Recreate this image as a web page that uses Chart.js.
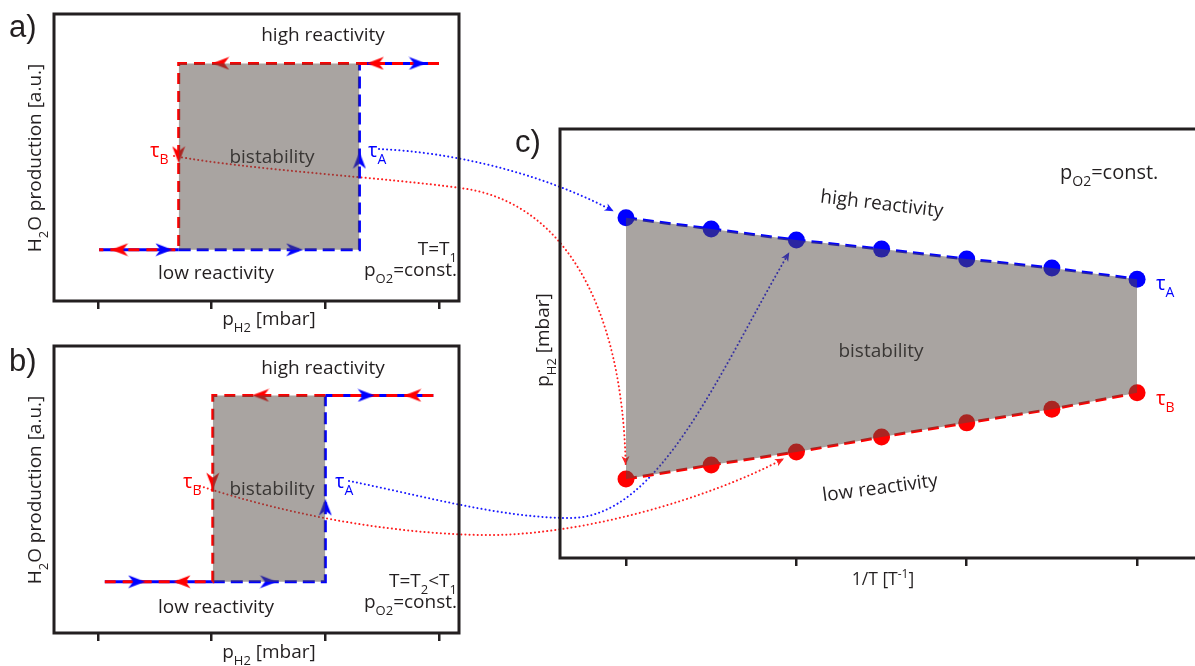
<!DOCTYPE html>
<html>
<head>
<meta charset="utf-8">
<title>Bistability of H2 oxidation</title>
<script src="https://cdn.jsdelivr.net/npm/chart.js@4.4.1/dist/chart.umd.min.js"></script>
<style>
  html, body { margin: 0; padding: 0; background: #fff; }
  #page { position: relative; width: 1195px; height: 666px; background: #fff; overflow: hidden; }
  #page canvas { position: absolute; left: 0; top: 0; }
</style>
</head>
<body>
<div id="page">
  <canvas id="chartA" width="1195" height="666"></canvas>
  <canvas id="chartB" width="1195" height="666"></canvas>
  <canvas id="chartC" width="1195" height="666"></canvas>
</div>
<script>
// ---- data ----
// panels a/b: p(H2) in tick units, H2O production 0 = low, 1 = high reactivity
const pTicks = [0, 1, 2, 3];
const pathUpA = [[0.01, 0], [0.71, 0], [2.30, 0], [2.30, 1], [3.00, 1]];   // increasing p(H2), switch at tauA
const pathDownA = [[3.00, 1], [2.30, 1], [0.71, 1], [0.71, 0], [0.01, 0]]; // decreasing p(H2), switch at tauB
const bistableA = [[0.71, 1], [2.30, 1]];
const pathUpB = [[0.06, 0], [1.01, 0], [2.00, 0], [2.00, 1], [2.95, 1]];
const pathDownB = [[2.95, 1], [2.00, 1], [1.01, 1], [1.01, 0], [0.06, 0]];
const bistableB = [[1.01, 1], [2.00, 1]];

// direction markers along the hysteresis loops
const arrowsUpA = [[0.58, 0], [1.73, 0], [2.30, 0.48], [2.81, 1]];
const arrowsUpARot = [0, 0, -90, 0];
const arrowsDownA = [[0.19, 0], [0.71, 0.51], [1.08, 1], [2.44, 1]];
const arrowsDownARot = [180, 90, 180, 180];
const arrowsUpB = [[0.34, 0], [1.50, 0], [2.00, 0.40], [2.36, 1]];
const arrowsUpBRot = [0, 0, -90, 0];
const arrowsDownB = [[0.74, 0], [1.01, 0.54], [1.43, 1], [2.77, 1]];
const arrowsDownBRot = [180, 90, 180, 180];

// panel c: transition pressures vs 1/T
const invT = [0, 0.5, 1, 1.5, 2, 2.5, 3];
const invTTicks = [0, 1, 2, 3];
const tauA = [7.93, 7.67, 7.41, 7.20, 6.97, 6.76, 6.50];
const tauB = [1.84, 2.17, 2.47, 2.82, 3.15, 3.47, 3.85];

// ---- styling ----
const RED = '#ff0000';
const BLUE = '#0000ff';
const INK = '#231f20';
const SHADE = 'rgba(84, 74, 68, 0.5)';
const TEXT_FONT = "'Open Sans', 'Noto Sans', sans-serif";
const LETTER_FONT = "'Liberation Sans', Arial, sans-serif";

const xy = arr => arr.map(p => ({ x: p[0], y: p[1] }));

function arrowImage(color) {
  const c = document.createElement('canvas');
  c.width = 18; c.height = 14;
  const g = c.getContext('2d');
  g.fillStyle = color;
  g.beginPath();
  g.moveTo(17.5, 7);
  g.lineTo(0.5, 0.5);
  g.lineTo(5.5, 7);
  g.lineTo(0.5, 13.5);
  g.closePath();
  g.fill();
  return c;
}
const redArrow = arrowImage(RED);
const blueArrow = arrowImage(BLUE);

// simple markup: _{sub} and ^{sup}
function parseRich(s) {
  const out = [];
  const re = /([_^])\{([^}]*)\}/g;
  let last = 0, m;
  while ((m = re.exec(s))) {
    if (m.index > last) out.push({ t: s.slice(last, m.index), k: 0 });
    out.push({ t: m[2], k: m[1] === '_' ? 1 : -1 });
    last = re.lastIndex;
  }
  if (last < s.length) out.push({ t: s.slice(last), k: 0 });
  return out;
}

function drawRich(ctx, item) {
  const size = item.size || 19;
  const family = item.font || TEXT_FONT;
  const parts = parseRich(item.s);
  const fontFor = k => (k ? Math.round(size * 0.7) : size) + 'px ' + family;
  let w = 0;
  parts.forEach(p => { ctx.font = fontFor(p.k); p.w = ctx.measureText(p.t).width; w += p.w; });
  ctx.save();
  ctx.translate(item.x, item.y);
  if (item.angle) ctx.rotate(item.angle * Math.PI / 180);
  ctx.fillStyle = item.color || INK;
  ctx.textAlign = 'left';
  ctx.textBaseline = 'alphabetic';
  let x = item.align === 'left' ? 0 : item.align === 'right' ? -w : -w / 2;
  const dy = item.base === 'middle' ? size * 0.36 : 0;
  parts.forEach(p => {
    ctx.font = fontFor(p.k);
    const off = p.k === 1 ? size * 0.36 : p.k === -1 ? -size * 0.42 : 0;
    ctx.fillText(p.t, x, dy + off);
    x += p.w;
  });
  ctx.restore();
}

const labels = {
  chartA: [
    { s: 'a)', x: 9, y: 37, size: 31, font: LETTER_FONT, align: 'left' },
    { s: 'high reactivity', x: 323, y: 41 },
    { s: 'bistability', x: 272, y: 163, color: '#3a3735' },
    { s: 'low reactivity', x: 216, y: 279 },
    { s: 'T=T_{1}', x: 457, y: 255, align: 'right' },
    { s: 'p_{O2}=const.', x: 457, y: 276, align: 'right' },
    { s: 'τ_{B}', x: 150, y: 157, align: 'left', color: RED, size: 20 },
    { s: 'τ_{A}', x: 368, y: 157, align: 'left', color: BLUE, size: 20 },
    { s: 'p_{H2} [mbar]', x: 269, y: 325 },
    { s: 'H_{2}O production [a.u.]', x: 41, y: 158, angle: -90 }
  ],
  chartB: [
    { s: 'b)', x: 9, y: 371, size: 31, font: LETTER_FONT, align: 'left' },
    { s: 'high reactivity', x: 323, y: 374 },
    { s: 'bistability', x: 272, y: 495, color: '#3a3735' },
    { s: 'low reactivity', x: 216, y: 613 },
    { s: 'T=T_{2}<T_{1}', x: 457, y: 587, align: 'right' },
    { s: 'p_{O2}=const.', x: 457, y: 608, align: 'right' },
    { s: 'τ_{B}', x: 183, y: 488, align: 'left', color: RED, size: 20 },
    { s: 'τ_{A}', x: 335, y: 488, align: 'left', color: BLUE, size: 20 },
    { s: 'p_{H2} [mbar]', x: 269, y: 658 },
    { s: 'H_{2}O production [a.u.]', x: 41, y: 490, angle: -90 }
  ],
  chartC: [
    { s: 'c)', x: 515, y: 152, size: 31, font: LETTER_FONT, align: 'left' },
    { s: 'p_{O2}=const.', x: 1060, y: 179, align: 'left', size: 20 },
    { s: 'high reactivity', x: 882, y: 203, angle: 6.8, base: 'middle' },
    { s: 'bistability', x: 881, y: 357, color: '#3a3735' },
    { s: 'low reactivity', x: 880, y: 487, angle: -7.5, base: 'middle' },
    { s: 'τ_{A}', x: 1156, y: 290, align: 'left', color: BLUE, size: 20 },
    { s: 'τ_{B}', x: 1156, y: 405, align: 'left', color: RED, size: 20 },
    { s: '1/T [T^{-1}]', x: 883, y: 585, size: 17.5 },
    { s: 'p_{H2} [mbar]', x: 549, y: 340, angle: -90 }
  ]
};

// ---- plugins ----
const framePlugin = {
  id: 'frame',
  afterDatasetsDraw(chart) {
    const { ctx, chartArea: a } = chart;
    ctx.save();
    ctx.strokeStyle = INK;
    ctx.lineWidth = 3;
    ctx.lineJoin = 'miter';
    ctx.beginPath();
    if (chart.canvas.id === 'chartC') {
      ctx.moveTo(a.right + 10, a.top);
      ctx.lineTo(a.left, a.top);
      ctx.lineTo(a.left, a.bottom);
      ctx.lineTo(a.right + 10, a.bottom);
    } else {
      ctx.rect(a.left, a.top, a.right - a.left, a.bottom - a.top);
    }
    ctx.stroke();
    ctx.restore();
  }
};

const textPlugin = {
  id: 'panelText',
  afterDraw(chart) {
    (labels[chart.canvas.id] || []).forEach(item => drawRich(chart.ctx, item));
  }
};

function dotted(ctx, color, start, segs, target) {
  // last control point decides the arrow direction; stop short of the marker
  const c2 = segs[segs.length - 1][1];
  const dx = target.x - c2[0], dy = target.y - c2[1];
  const len = Math.hypot(dx, dy);
  const tip = [target.x - dx / len * 14, target.y - dy / len * 14];
  ctx.save();
  ctx.strokeStyle = color;
  ctx.lineWidth = 2;
  ctx.lineCap = 'round';
  ctx.setLineDash([0.1, 4]);
  ctx.beginPath();
  ctx.moveTo(start[0], start[1]);
  segs.forEach((s, i) => {
    const end = i === segs.length - 1 ? tip : s[2];
    ctx.bezierCurveTo(s[0][0], s[0][1], s[1][0], s[1][1], end[0], end[1]);
  });
  ctx.stroke();
  ctx.setLineDash([]);
  const ang = Math.atan2(dy, dx);
  ctx.translate(tip[0], tip[1]);
  ctx.rotate(ang);
  ctx.fillStyle = color;
  ctx.beginPath();
  ctx.moveTo(0, 0);
  ctx.lineTo(-9, -4);
  ctx.lineTo(-6.5, 0);
  ctx.lineTo(-9, 4);
  ctx.closePath();
  ctx.fill();
  ctx.restore();
}

let chartC;
const connectorPlugin = {
  id: 'connectors',
  beforeDatasetsDraw(chart) {
    if (!chartC) return;
    const ctx = chart.ctx;
    const upPts = chartC.getDatasetMeta(0).data;
    const downPts = chartC.getDatasetMeta(1).data;
    // a) tauA -> first upper point, a) tauB -> first lower point
    dotted(ctx, '#1a1aff', [379, 149], [[[450, 152], [540, 172]]], upPts[0]);
    dotted(ctx, '#ff1f1f', [174, 156], [[[250, 170], [390, 178], [460, 188]], [[560, 200], [622, 300]]], downPts[0]);
    // b) tauA / tauB -> third points
    dotted(ctx, '#1a1aff', [349, 481], [[[420, 495], [500, 518], [570, 518]], [[660, 518], [720, 370]]], upPts[2]);
    dotted(ctx, '#ff1f1f', [200, 486], [[[280, 512], [380, 533], [480, 535]], [[580, 537], [710, 498]]], downPts[2]);
  }
};

// ---- chart builders ----
function pressureAxis() {
  return {
    type: 'linear',
    min: -0.387, max: 3.176,
    afterBuildTicks: s => { s.ticks = pTicks.map(v => ({ value: v })); },
    afterFit: s => { s.height = 10; },
    border: { display: false },
    grid: { drawOnChartArea: false, drawTicks: true, tickLength: 8, lineWidth: 2.5, color: INK },
    ticks: { display: false }
  };
}

function loopChart(id, up, down, region, upArrows, upRot, downArrows, downRot, top) {
  const xL = region[0][0], xR = region[1][0];
  // outer branches are shared by both sweeps: solid blue under the red dashes
  const outer = c => c.p0.parsed.x < xL || c.p1.parsed.x > xR;
  return new Chart(document.getElementById(id), {
    type: 'scatter',
    data: {
      datasets: [
        {
          data: xy(up), showLine: true, borderColor: BLUE, borderWidth: 3,
          borderDash: [12, 6], pointRadius: 0, order: 4,
          segment: { borderDash: c => outer(c) ? [] : [12, 6] }
        },
        {
          data: xy(down), showLine: true, borderColor: RED, borderWidth: 3,
          borderDash: [11, 7], pointRadius: 0, order: 3
        },
        {
          data: xy(upArrows), showLine: false, pointStyle: blueArrow,
          pointRotation: upRot, pointRadius: 8, order: 2
        },
        {
          data: xy(downArrows), showLine: false, pointStyle: redArrow,
          pointRotation: downRot, pointRadius: 8, order: 1
        },
        {
          data: xy(region), showLine: true, borderWidth: 0, borderColor: 'rgba(0,0,0,0)',
          pointRadius: 0, backgroundColor: SHADE, fill: { value: 0 }, order: 0
        }
      ]
    },
    options: {
      responsive: false,
      animation: false,
      devicePixelRatio: 1,
      layout: { autoPadding: false, padding: { left: 54, top: top, right: 736, bottom: 666 - (top + 287) - 10 } },
      scales: {
        x: pressureAxis(),
        y: { type: 'linear', display: false, min: -0.275, max: 1.265 }
      },
      plugins: { legend: { display: false }, tooltip: { enabled: false } }
    },
    plugins: id === 'chartA' ? [connectorPlugin, framePlugin, textPlugin] : [framePlugin, textPlugin]
  });
}

// ---- panel c ----
chartC = new Chart(document.getElementById('chartC'), {
  type: 'scatter',
  data: {
    datasets: [
      {
        data: invT.map((x, i) => ({ x, y: tauA[i] })), showLine: true,
        borderColor: BLUE, borderWidth: 3, borderDash: [11, 6],
        pointRadius: 8.5, pointBackgroundColor: BLUE, pointBorderWidth: 0, order: 2
      },
      {
        data: invT.map((x, i) => ({ x, y: tauB[i] })), showLine: true,
        borderColor: RED, borderWidth: 3, borderDash: [11, 6],
        pointRadius: 8.5, pointBackgroundColor: RED, pointBorderWidth: 0, order: 1
      },
      {
        data: invT.map((x, i) => ({ x, y: tauA[i] })), showLine: true,
        borderWidth: 0, borderColor: 'rgba(0,0,0,0)', pointRadius: 0,
        backgroundColor: SHADE, fill: 1, order: 0
      }
    ]
  },
  options: {
    responsive: false,
    animation: false,
    devicePixelRatio: 1,
    layout: { autoPadding: false, padding: { left: 560, top: 129, right: 0, bottom: 98 } },
    scales: {
      x: {
        type: 'linear', min: -0.3875, max: 3.34,
        afterBuildTicks: s => { s.ticks = invTTicks.map(v => ({ value: v })); },
        afterFit: s => { s.height = 10; },
        border: { display: false },
        grid: { drawOnChartArea: false, drawTicks: true, tickLength: 8, lineWidth: 2.5, color: INK },
        ticks: { display: false }
      },
      y: { type: 'linear', display: false, min: 0, max: 10 }
    },
    plugins: { legend: { display: false }, tooltip: { enabled: false } }
  },
  plugins: [framePlugin, textPlugin]
});

const chartB = loopChart('chartB', pathUpB, pathDownB, bistableB,
  arrowsUpB, arrowsUpBRot, arrowsDownB, arrowsDownBRot, 346);
const chartA = loopChart('chartA', pathUpA, pathDownA, bistableA,
  arrowsUpA, arrowsUpARot, arrowsDownA, arrowsDownARot, 14);
</script>
</body>
</html>
